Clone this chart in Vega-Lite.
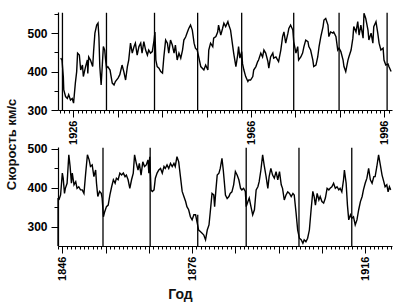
{
"$schema": "https://vega.github.io/schema/vega-lite/v6.json",
"padding": {"left": 5, "top": 7, "right": 4, "bottom": 2},
"background": "#ffffff",
"title": {"text": "Скорость км/с", "orient": "left", "anchor": "middle", "font": "Liberation Sans", "fontSize": 13, "fontWeight": "bold", "color": "#111", "offset": 8, "dx": 10},
"bounds": "flush",
"spacing": 37,
"config": {
  "view": {"stroke": null},
  "font": "Liberation Sans",
  "axis": {"domainColor": "#000", "tickColor": "#000", "labelColor": "#000", "labelFont": "Liberation Sans", "labelFontWeight": "bold", "grid": false, "domainWidth": 1.2, "tickWidth": 1, "labelOverlap": false, "labelFlush": false}
},
"datasets": {
  "top": [
{"t":1923.2,"v":435},{"t":1923.5,"v":430},{"t":1923.8,"v":386},{"t":1923.9,"v":352},{"t":1924.3,"v":335},{"t":1924.7,"v":330},{"t":1925.0,"v":340},{"t":1925.4,"v":326},{"t":1925.8,"v":330},{"t":1926.1,"v":318},{"t":1926.5,"v":370},{"t":1926.8,"v":400},{"t":1927.0,"v":448},{"t":1927.4,"v":443},{"t":1927.7,"v":404},{"t":1928.1,"v":417},{"t":1928.3,"v":387},{"t":1928.8,"v":413},{"t":1929.2,"v":430},{"t":1929.3,"v":395},{"t":1929.5,"v":438},{"t":1929.9,"v":430},{"t":1930.4,"v":413},{"t":1930.6,"v":452},{"t":1930.9,"v":500},{"t":1931.3,"v":521},{"t":1931.6,"v":526},{"t":1931.8,"v":490},{"t":1932.0,"v":413},{"t":1932.3,"v":365},{"t":1932.5,"v":404},{"t":1932.8,"v":465},{"t":1933.1,"v":456},{"t":1933.3,"v":430},{"t":1933.5,"v":409},{"t":1933.8,"v":413},{"t":1934.3,"v":404},{"t":1934.8,"v":370},{"t":1935.2,"v":365},{"t":1935.5,"v":374},{"t":1936.1,"v":383},{"t":1936.5,"v":392},{"t":1937.0,"v":417},{"t":1937.4,"v":400},{"t":1937.8,"v":378},{"t":1938.2,"v":413},{"t":1938.5,"v":430},{"t":1938.9,"v":474},{"t":1939.3,"v":448},{"t":1939.7,"v":465},{"t":1940.0,"v":474},{"t":1940.4,"v":443},{"t":1940.8,"v":465},{"t":1941.2,"v":474},{"t":1941.5,"v":448},{"t":1941.9,"v":478},{"t":1942.3,"v":456},{"t":1942.7,"v":443},{"t":1943.0,"v":456},{"t":1943.4,"v":448},{"t":1943.8,"v":452},{"t":1944.2,"v":482},{"t":1944.4,"v":503},{"t":1944.6,"v":430},{"t":1944.9,"v":413},{"t":1945.3,"v":409},{"t":1945.7,"v":400},{"t":1946.1,"v":396},{"t":1946.4,"v":438},{"t":1946.8,"v":482},{"t":1947.2,"v":474},{"t":1947.5,"v":448},{"t":1947.9,"v":482},{"t":1948.3,"v":469},{"t":1948.7,"v":448},{"t":1949.0,"v":469},{"t":1949.4,"v":430},{"t":1949.8,"v":448},{"t":1950.2,"v":435},{"t":1950.6,"v":456},{"t":1950.9,"v":482},{"t":1951.3,"v":490},{"t":1951.7,"v":503},{"t":1952.0,"v":512},{"t":1952.4,"v":521},{"t":1952.8,"v":508},{"t":1953.2,"v":474},{"t":1953.5,"v":461},{"t":1953.9,"v":456},{"t":1954.3,"v":435},{"t":1954.7,"v":413},{"t":1955.4,"v":404},{"t":1955.8,"v":417},{"t":1956.3,"v":404},{"t":1956.5,"v":456},{"t":1956.9,"v":474},{"t":1957.4,"v":465},{"t":1957.6,"v":487},{"t":1958.1,"v":491},{"t":1958.5,"v":503},{"t":1958.7,"v":521},{"t":1959.2,"v":495},{"t":1959.6,"v":512},{"t":1959.9,"v":526},{"t":1960.3,"v":517},{"t":1960.8,"v":530},{"t":1961.0,"v":521},{"t":1961.4,"v":508},{"t":1961.9,"v":465},{"t":1962.1,"v":448},{"t":1962.6,"v":413},{"t":1963.0,"v":443},{"t":1963.2,"v":465},{"t":1963.5,"v":435},{"t":1963.9,"v":452},{"t":1964.1,"v":420},{"t":1964.4,"v":404},{"t":1964.8,"v":387},{"t":1965.3,"v":374},{"t":1965.5,"v":378},{"t":1965.9,"v":378},{"t":1966.4,"v":387},{"t":1966.6,"v":404},{"t":1967.1,"v":413},{"t":1967.5,"v":426},{"t":1967.7,"v":430},{"t":1968.2,"v":448},{"t":1968.6,"v":438},{"t":1968.9,"v":456},{"t":1969.3,"v":448},{"t":1969.8,"v":426},{"t":1970.0,"v":409},{"t":1970.4,"v":438},{"t":1970.9,"v":448},{"t":1971.1,"v":435},{"t":1971.6,"v":438},{"t":1972.0,"v":430},{"t":1972.2,"v":426},{"t":1972.7,"v":456},{"t":1973.1,"v":491},{"t":1973.4,"v":503},{"t":1973.8,"v":474},{"t":1974.3,"v":500},{"t":1974.5,"v":512},{"t":1974.9,"v":521},{"t":1975.4,"v":508},{"t":1975.6,"v":478},{"t":1976.1,"v":448},{"t":1976.5,"v":465},{"t":1976.7,"v":430},{"t":1977.2,"v":438},{"t":1977.6,"v":448},{"t":1977.9,"v":465},{"t":1978.3,"v":482},{"t":1978.8,"v":478},{"t":1979.0,"v":465},{"t":1979.4,"v":456},{"t":1979.9,"v":430},{"t":1980.1,"v":413},{"t":1980.6,"v":417},{"t":1981.0,"v":438},{"t":1981.3,"v":465},{"t":1981.7,"v":491},{"t":1982.2,"v":517},{"t":1982.4,"v":534},{"t":1982.8,"v":538},{"t":1983.3,"v":521},{"t":1983.5,"v":491},{"t":1983.9,"v":503},{"t":1984.4,"v":500},{"t":1984.6,"v":503},{"t":1985.1,"v":491},{"t":1985.5,"v":456},{"t":1985.8,"v":461},{"t":1986.2,"v":452},{"t":1986.7,"v":430},{"t":1986.9,"v":413},{"t":1987.3,"v":400},{"t":1987.8,"v":430},{"t":1988.0,"v":438},{"t":1988.5,"v":456},{"t":1988.9,"v":487},{"t":1989.1,"v":517},{"t":1989.6,"v":503},{"t":1990.0,"v":530},{"t":1990.3,"v":495},{"t":1990.7,"v":521},{"t":1991.2,"v":487},{"t":1991.4,"v":552},{"t":1991.8,"v":538},{"t":1992.3,"v":508},{"t":1992.5,"v":482},{"t":1993.0,"v":500},{"t":1993.4,"v":474},{"t":1993.6,"v":517},{"t":1994.1,"v":530},{"t":1994.5,"v":500},{"t":1994.8,"v":474},{"t":1995.2,"v":456},{"t":1995.7,"v":461},{"t":1995.9,"v":430},{"t":1996.3,"v":417},{"t":1996.8,"v":420},{"t":1997.0,"v":413},{"t":1997.5,"v":400}
  ],
  "topMin": [
{"t":1923.6,"v":300,"v2":553},{"t":1933.5,"v":300,"v2":553},{"t":1944.3,"v":300,"v2":553},{"t":1954.0,"v":300,"v2":553},{"t":1963.9,"v":300,"v2":553},{"t":1975.6,"v":300,"v2":553},{"t":1985.8,"v":300,"v2":553},{"t":1996.6,"v":300,"v2":553}
  ],
  "bottom": [
{"t":1845.2,"v":369},{"t":1845.6,"v":382},{"t":1846.0,"v":438},{"t":1846.2,"v":425},{"t":1846.5,"v":386},{"t":1846.7,"v":399},{"t":1847.1,"v":412},{"t":1847.5,"v":485},{"t":1847.8,"v":455},{"t":1848.1,"v":412},{"t":1848.3,"v":438},{"t":1848.7,"v":408},{"t":1849.1,"v":416},{"t":1849.4,"v":399},{"t":1849.8,"v":403},{"t":1850.2,"v":395},{"t":1850.6,"v":395},{"t":1851.0,"v":386},{"t":1851.4,"v":438},{"t":1851.8,"v":485},{"t":1852.2,"v":472},{"t":1852.5,"v":455},{"t":1852.9,"v":459},{"t":1853.3,"v":429},{"t":1853.7,"v":446},{"t":1853.9,"v":412},{"t":1854.2,"v":378},{"t":1854.6,"v":391},{"t":1855.0,"v":386},{"t":1855.2,"v":374},{"t":1855.5,"v":326},{"t":1855.8,"v":339},{"t":1856.2,"v":352},{"t":1856.6,"v":356},{"t":1857.0,"v":382},{"t":1857.4,"v":403},{"t":1857.8,"v":421},{"t":1858.2,"v":412},{"t":1858.5,"v":425},{"t":1858.9,"v":421},{"t":1859.3,"v":438},{"t":1859.7,"v":433},{"t":1860.1,"v":438},{"t":1860.5,"v":429},{"t":1860.8,"v":433},{"t":1861.2,"v":421},{"t":1861.6,"v":399},{"t":1862.0,"v":421},{"t":1862.4,"v":438},{"t":1862.7,"v":485},{"t":1863.1,"v":463},{"t":1863.5,"v":446},{"t":1863.8,"v":463},{"t":1864.2,"v":433},{"t":1864.6,"v":467},{"t":1865.0,"v":455},{"t":1865.4,"v":459},{"t":1865.8,"v":472},{"t":1866.0,"v":438},{"t":1866.2,"v":480},{"t":1866.5,"v":395},{"t":1866.8,"v":391},{"t":1867.2,"v":395},{"t":1867.5,"v":425},{"t":1867.9,"v":438},{"t":1868.3,"v":446},{"t":1868.7,"v":450},{"t":1869.1,"v":438},{"t":1869.5,"v":455},{"t":1869.8,"v":450},{"t":1870.2,"v":459},{"t":1870.6,"v":450},{"t":1871.0,"v":463},{"t":1871.4,"v":455},{"t":1871.8,"v":463},{"t":1872.1,"v":455},{"t":1872.5,"v":480},{"t":1872.9,"v":467},{"t":1873.3,"v":429},{"t":1873.7,"v":391},{"t":1874.1,"v":378},{"t":1874.5,"v":365},{"t":1874.8,"v":352},{"t":1875.2,"v":344},{"t":1875.6,"v":326},{"t":1876.0,"v":318},{"t":1876.4,"v":331},{"t":1876.8,"v":331},{"t":1877.2,"v":309},{"t":1877.5,"v":292},{"t":1877.9,"v":288},{"t":1878.3,"v":284},{"t":1878.7,"v":279},{"t":1879.1,"v":267},{"t":1879.5,"v":292},{"t":1879.9,"v":305},{"t":1880.2,"v":339},{"t":1880.6,"v":386},{"t":1881.0,"v":382},{"t":1881.2,"v":352},{"t":1881.5,"v":395},{"t":1881.8,"v":433},{"t":1882.2,"v":438},{"t":1882.5,"v":450},{"t":1882.9,"v":476},{"t":1883.2,"v":446},{"t":1883.5,"v":408},{"t":1883.7,"v":382},{"t":1884.1,"v":373},{"t":1884.5,"v":378},{"t":1884.8,"v":386},{"t":1885.2,"v":390},{"t":1885.6,"v":408},{"t":1886.0,"v":442},{"t":1886.4,"v":433},{"t":1886.8,"v":421},{"t":1887.2,"v":399},{"t":1887.5,"v":395},{"t":1887.9,"v":399},{"t":1888.3,"v":391},{"t":1888.5,"v":352},{"t":1888.9,"v":365},{"t":1889.2,"v":374},{"t":1889.6,"v":352},{"t":1890.0,"v":331},{"t":1890.4,"v":344},{"t":1890.8,"v":395},{"t":1891.2,"v":403},{"t":1891.5,"v":416},{"t":1891.9,"v":446},{"t":1892.3,"v":485},{"t":1892.7,"v":455},{"t":1893.1,"v":429},{"t":1893.5,"v":399},{"t":1893.8,"v":429},{"t":1894.2,"v":450},{"t":1894.6,"v":433},{"t":1895.0,"v":425},{"t":1895.4,"v":442},{"t":1895.8,"v":421},{"t":1896.2,"v":442},{"t":1896.6,"v":408},{"t":1896.9,"v":399},{"t":1897.3,"v":369},{"t":1897.7,"v":382},{"t":1898.1,"v":390},{"t":1898.5,"v":386},{"t":1898.9,"v":378},{"t":1899.3,"v":386},{"t":1899.6,"v":382},{"t":1900.0,"v":339},{"t":1900.4,"v":292},{"t":1900.8,"v":271},{"t":1901.2,"v":267},{"t":1901.6,"v":258},{"t":1901.9,"v":267},{"t":1902.3,"v":262},{"t":1902.7,"v":271},{"t":1903.1,"v":292},{"t":1903.5,"v":344},{"t":1903.9,"v":391},{"t":1904.2,"v":378},{"t":1904.5,"v":356},{"t":1904.9,"v":386},{"t":1905.3,"v":369},{"t":1905.6,"v":378},{"t":1906.0,"v":365},{"t":1906.4,"v":361},{"t":1906.8,"v":374},{"t":1907.2,"v":399},{"t":1907.6,"v":395},{"t":1907.9,"v":399},{"t":1908.3,"v":403},{"t":1908.7,"v":412},{"t":1909.1,"v":399},{"t":1909.5,"v":403},{"t":1909.9,"v":395},{"t":1910.2,"v":399},{"t":1910.6,"v":390},{"t":1911.0,"v":421},{"t":1911.2,"v":446},{"t":1911.6,"v":412},{"t":1911.9,"v":356},{"t":1912.2,"v":318},{"t":1912.6,"v":331},{"t":1912.9,"v":322},{"t":1913.3,"v":326},{"t":1913.7,"v":305},{"t":1914.1,"v":318},{"t":1914.5,"v":344},{"t":1914.9,"v":365},{"t":1915.3,"v":378},{"t":1915.6,"v":395},{"t":1916.0,"v":412},{"t":1916.4,"v":425},{"t":1916.8,"v":450},{"t":1917.2,"v":421},{"t":1917.6,"v":412},{"t":1918.0,"v":429},{"t":1918.3,"v":429},{"t":1918.7,"v":455},{"t":1919.1,"v":485},{"t":1919.5,"v":459},{"t":1919.9,"v":433},{"t":1920.3,"v":416},{"t":1920.6,"v":403},{"t":1921.0,"v":408},{"t":1921.3,"v":390},{"t":1921.6,"v":403},{"t":1921.9,"v":395}
  ],
  "bottomMin": [
{"t":1845.0,"v":251,"v2":374},{"t":1855.4,"v":251,"v2":503},{"t":1866.3,"v":251,"v2":503},{"t":1877.3,"v":251,"v2":331},{"t":1888.5,"v":251,"v2":503},{"t":1900.7,"v":251,"v2":503},{"t":1912.9,"v":251,"v2":503}
  ]
},
"vconcat": [
  {
    "width": 334,
    "height": 98,
    "encoding": {
      "x": {"field": "t", "type": "quantitative",
        "scale": {"domain": [1922.6, 1997.7], "nice": false, "zero": false},
        "axis": {"title": null, "format": "d",
          "values": [1923,1924,1925,1926,1927,1928,1929,1930,1931,1932,1933,1934,1935,1936,1937,1938,1939,1940,1941,1942,1943,1944,1945,1946,1947,1948,1949,1950,1951,1952,1953,1954,1955,1956,1957,1958,1959,1960,1961,1962,1963,1964,1965,1966,1967,1968,1969,1970,1971,1972,1973,1974,1975,1976,1977,1978,1979,1980,1981,1982,1983,1984,1985,1986,1987,1988,1989,1990,1991,1992,1993,1994,1995,1996,1997],
          "labelExpr": "(datum.value == 1926 || datum.value == 1966 || datum.value == 1996) ? datum.label : ''",
          "labelAngle": -90, "labelFontSize": 11, "labelPadding": 3,
          "tickSize": {"condition": {"test": "(datum.value - 1926) % 10 == 0", "value": 7}, "value": 3}}},
      "y": {"field": "v", "type": "quantitative",
        "scale": {"domain": [300, 555], "nice": false, "zero": false},
        "axis": {"title": null, "values": [300, 350, 400, 450, 500, 550],
          "labelExpr": "datum.value % 100 == 0 ? datum.label : ''",
          "labelFontSize": 12, "labelPadding": 4,
          "tickSize": {"condition": {"test": "datum.value % 100 == 0", "value": 7}, "value": 4}}}
    },
    "layer": [
      {"data": {"name": "topMin"}, "mark": {"type": "rule", "color": "#000", "strokeWidth": 1.3}, "encoding": {"y2": {"field": "v2"}}},
      {"data": {"name": "top"}, "mark": {"type": "line", "color": "#000", "strokeWidth": 1.4}, "encoding": {}}
    ]
  },
  {
    "width": 334,
    "height": 99,
    "encoding": {
      "x": {"field": "t", "type": "quantitative",
        "scale": {"domain": [1845.0, 1922.2], "nice": false, "zero": false},
        "axis": {"title": "Год", "format": "d",
          "values": [1845,1846,1847,1848,1849,1850,1851,1852,1853,1854,1855,1856,1857,1858,1859,1860,1861,1862,1863,1864,1865,1866,1867,1868,1869,1870,1871,1872,1873,1874,1875,1876,1877,1878,1879,1880,1881,1882,1883,1884,1885,1886,1887,1888,1889,1890,1891,1892,1893,1894,1895,1896,1897,1898,1899,1900,1901,1902,1903,1904,1905,1906,1907,1908,1909,1910,1911,1912,1913,1914,1915,1916,1917,1918,1919,1920,1921,1922],
          "labelExpr": "(datum.value == 1846 || datum.value == 1876 || datum.value == 1916) ? datum.label : ''",
          "labelAngle": -90, "labelFontSize": 11, "labelPadding": 3,
          "tickSize": {"condition": {"test": "(datum.value - 1846) % 10 == 0", "value": 7}, "value": 3},
          "titleFont": "Liberation Sans", "titleFontSize": 14, "titleFontWeight": "bold", "titleColor": "#111",
          "titleX": 122, "titleY": 48, "titleAlign": "center", "titleBaseline": "middle"}},
      "y": {"field": "v", "type": "quantitative",
        "scale": {"domain": [251, 505], "nice": false, "zero": false},
        "axis": {"title": null, "values": [300, 350, 400, 450, 500],
          "labelExpr": "datum.value % 100 == 0 ? datum.label : ''",
          "labelFontSize": 12, "labelPadding": 4,
          "tickSize": {"condition": {"test": "datum.value % 100 == 0", "value": 7}, "value": 4}}}
    },
    "layer": [
      {"data": {"name": "bottomMin"}, "mark": {"type": "rule", "color": "#000", "strokeWidth": 1.3}, "encoding": {"y2": {"field": "v2"}}},
      {"data": {"name": "bottom"}, "mark": {"type": "line", "color": "#000", "strokeWidth": 1.4}, "encoding": {}}
    ]
  }
]
}
